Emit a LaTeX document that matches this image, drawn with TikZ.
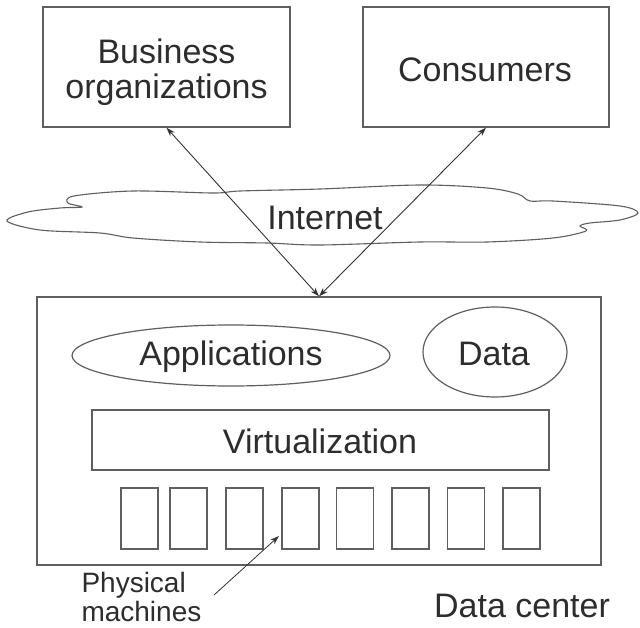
\documentclass[tikz,border=0pt]{standalone}
\usepackage{fontspec}
\setmainfont{Liberation Sans}
\usetikzlibrary{arrows.meta,shapes.geometric}
\definecolor{ln}{RGB}{95,95,95}
\definecolor{tx}{RGB}{45,45,45}
\begin{document}
\begin{tikzpicture}[x=1pt,y=-1pt,
  box/.style={draw=ln,line width=1.4pt,inner sep=0pt,rectangle},
  ell/.style={draw=ln,line width=1.2pt,inner sep=0pt,ellipse},
  big/.style={text=tx,font=\fontsize{34}{35}\selectfont},
  small/.style={text=tx,font=\fontsize{28}{29}\selectfont},
  conn/.style={draw=black!80,line width=0.9pt},
  tip/.style={-{Stealth[length=9pt,width=6pt]}},
  machine/.style={box,line width=1.2pt,minimum width=37pt,minimum height=61pt}]
\fill[white] (0,0) rectangle (640,628);
\useasboundingbox (0,0) rectangle (640,628);
% top boxes
\node[box,minimum width=247pt,minimum height=120pt] (biz) at (166.5,67) {};
\node[big,align=center] (biztext) at (166.5,72) {Business\\organizations};
\node[box,minimum width=246pt,minimum height=120pt] (cons) at (486,67) {};
\node[big] (constext) at (485,70) {Consumers};
% cloud
\draw[ln,line width=1.1pt,fill=white] plot[smooth cycle,tension=0.55] coordinates {
 (7,221) (28,212) (60,208) (82,207) (68,203) (74,196) (133,191) (213,193) (240,191)
 (320,189) (420,185) (487,188) (518,194) (530,201) (553,201) (620,206) (638,213)
 (620,220) (590,223) (580,226) (586,231) (553,238) (487,242) (420,242) (320,245)
 (267,243) (200,242) (133,238) (100,233) (40,230)};
\node[big] (inet) at (325,218) {Internet};
% data center
\node[box,minimum width=564pt,minimum height=268pt] (dc) at (319,431) {};
\node[ell,minimum width=318pt,minimum height=61pt] (apps) at (231,355.5) {};
\node[big] (appstext) at (231,357) {Applications};
\node[ell,minimum width=144pt,minimum height=90pt] (data) at (495,352) {};
\node[big] (datatext) at (494,354) {Data};
\node[box,minimum width=457pt,minimum height=60pt] (virt) at (320.5,440) {};
\node[big] (virttext) at (320,441) {Virtualization};
\node[machine] (m1) at (139.5,518.5) {};
\node[machine] (m2) at (188.5,518.5) {};
\node[machine] (m3) at (244.5,518.5) {};
\node[machine] (m4) at (300.5,518.5) {};
\node[machine] (m5) at (355,518.5) {};
\node[machine] (m6) at (410.5,518.5) {};
\node[machine] (m7) at (466,518.5) {};
\node[machine] (m8) at (521.5,518.5) {};
\node[small,align=left,anchor=west] (pm) at (78,597) {Physical\\machines};
\node[big,anchor=base] (dclabel) at (522,617) {Data center};
% connectors
\draw[conn,{Stealth[length=9pt,width=6pt]}-{Stealth[length=9pt,width=6pt]}] (biz.south) -- (dc.north);
\draw[conn,{Stealth[length=9pt,width=6pt]}-{Stealth[length=9pt,width=6pt]}] (cons.south) -- (dc.north);
\coordinate (pmtail) at (214,595);
\coordinate (pmtip) at (279,536);
\draw[conn,line width=0.8pt,tip] (pmtail) -- (pmtip);
\end{tikzpicture}
\end{document}
